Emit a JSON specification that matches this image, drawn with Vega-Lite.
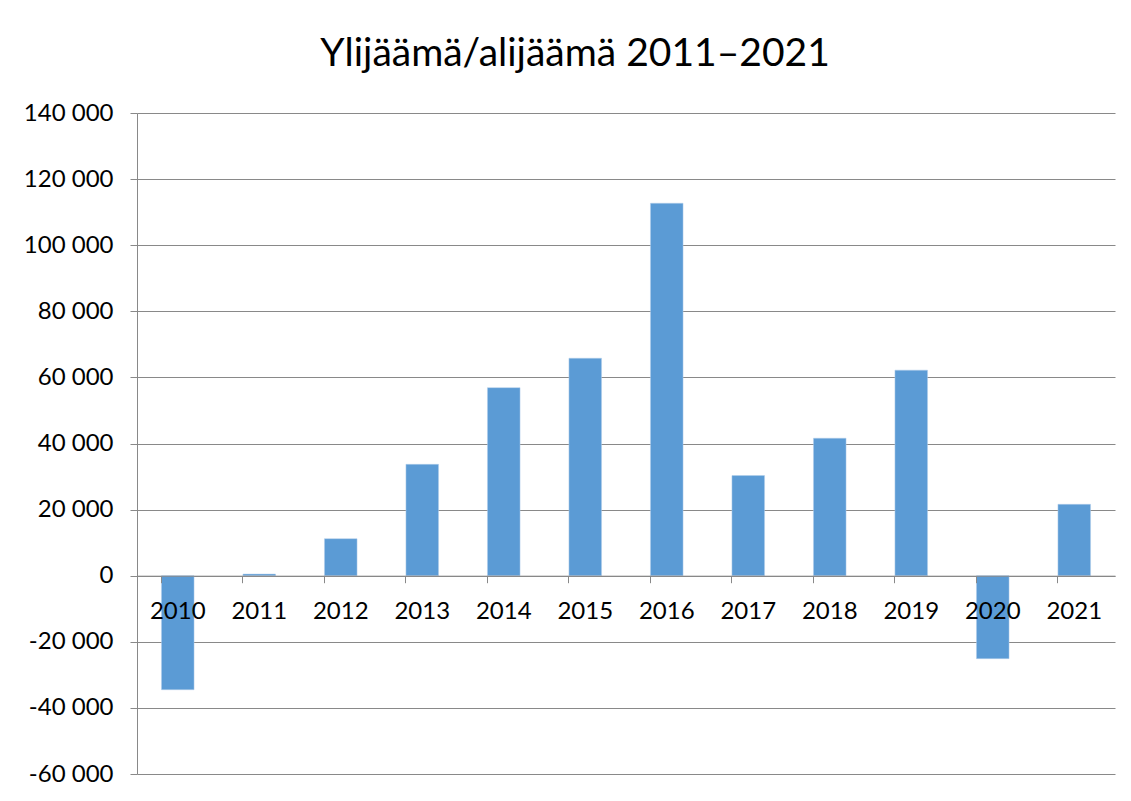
{
  "$schema": "https://vega.github.io/schema/vega-lite/v6.json",
  "width": 978,
  "height": 661,
  "autosize": "none",
  "padding": {"left": 137, "top": 113, "right": 16, "bottom": 27},
  "background": "white",
  "title": {
    "text": "Ylijäämä/alijäämä 2011–2021",
    "font": "Lato",
    "fontSize": 39,
    "fontWeight": "normal",
    "color": "#000000",
    "anchor": "middle",
    "dx": -51,
    "offset": 27
  },
  "config": {
    "locale": {"number": {"decimal": ",", "thousands": " ", "grouping": [3], "currency": ["", " €"], "minus": "-"}},
    "view": {"stroke": null},
    "axis": {"labelFont": "Lato", "labelFontSize": 24, "labelColor": "#000000", "title": null}
  },
  "data": {
    "values": [
      {"year": "2010", "value": -34500},
      {"year": "2011", "value": 500},
      {"year": "2012", "value": 11200},
      {"year": "2013", "value": 33700},
      {"year": "2014", "value": 56900},
      {"year": "2015", "value": 65800},
      {"year": "2016", "value": 112700},
      {"year": "2017", "value": 30300},
      {"year": "2018", "value": 41600},
      {"year": "2019", "value": 62200},
      {"year": "2020", "value": -25100},
      {"year": "2021", "value": 21600}
    ]
  },
  "mark": {"type": "bar", "color": "#5b9bd5", "stroke": "#b4cfea", "strokeWidth": 0.5},
  "encoding": {
    "x": {
      "field": "year",
      "type": "ordinal",
      "scale": {"paddingInner": 0.6, "paddingOuter": 0.3},
      "axis": {
        "orient": "bottom",
        "offset": -198.3,
        "zindex": 1,
        "labelAngle": 0,
        "labelPadding": 17,
        "bandPosition": 0,
        "tickSize": 7,
        "tickColor": "#898989",
        "domainColor": "#898989",
        "domainWidth": 1,
        "grid": false
      }
    },
    "y": {
      "field": "value",
      "type": "quantitative",
      "scale": {"domain": [-60000, 140000], "nice": false, "zero": false},
      "axis": {
        "values": [-60000, -40000, -20000, 0, 20000, 40000, 60000, 80000, 100000, 120000, 140000],
        "format": ",.0f",
        "grid": true,
        "gridColor": "#898989",
        "gridWidth": 1,
        "gridOpacity": 1,
        "tickSize": 7,
        "tickColor": "#898989",
        "domainColor": "#898989",
        "labelPadding": 17
      }
    }
  }
}
